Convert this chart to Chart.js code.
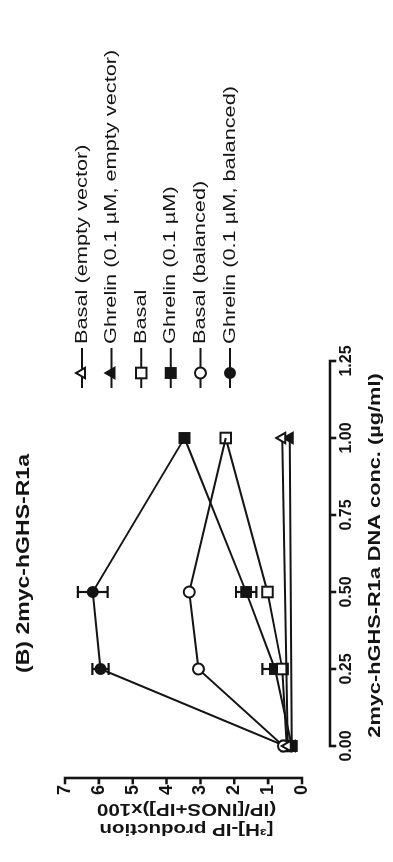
<!DOCTYPE html>
<html>
<head>
<meta charset="utf-8">
<script src="https://cdn.jsdelivr.net/npm/chart.js@4/dist/chart.umd.min.js"></script>
<style>
  html, body { margin: 0; padding: 0; background: #fff; overflow: hidden; }
  #page { position: relative; width: 393px; height: 862px; overflow: hidden; background: #fff; }
  /* the figure is laid out landscape and turned a quarter turn to sit upright on the page */
  #wrap { position: absolute; left: 0; top: 862px; width: 862px; height: 393px;
          transform-origin: 0 0; transform: rotate(-90deg); }
  canvas { display: block; }
</style>
</head>
<body>
<div id="page"><div id="wrap"><canvas id="c" width="862" height="393"></canvas></div></div>
<script>
// DNA amounts (µg/ml) used for each transfection condition
const concEmptyVector = [0, 1.0];
const concReceptor = [0, 0.25, 0.5, 1.0];
const concBalanced = [0, 0.25, 0.5, 1.0];

// [3H]-IP production, (IP/[INOS+IP]) x100
const basalEmptyVector = [0.42, 0.58];
const ghrelinEmptyVector = [0.30, 0.36];
const basalReceptor = [0.45, 0.58, 1.02, 2.25];
const ghrelinReceptor = [0.30, 0.80, 1.65, 3.47];
// the 1.0 µg/ml balanced transfection is the full-receptor condition itself
const basalBalanced = [0.55, 3.06, 3.33, 2.25];
const ghrelinBalanced = [0.50, 5.95, 6.18, 3.47];

// SEM of the stimulated points
const basalReceptorErr = [0, 0, 0.10, 0];
const ghrelinReceptorErr = [0, 0.37, 0.30, 0];
const ghrelinBalancedErr = [0, 0.24, 0.44, 0];

const seriesLabels = [
  'Basal (empty vector)',
  'Ghrelin (0.1 µM, empty vector)',
  'Basal',
  'Ghrelin (0.1 µM)',
  'Basal (balanced)',
  'Ghrelin (0.1 µM, balanced)'
];

const concTicks = [0, 0.25, 0.5, 0.75, 1.0, 1.25];
const valueTicks = [0, 1, 2, 3, 4, 5, 6, 7];

const panelTitle = '(B) 2myc-hGHS-R1a';
const concTitle = '2myc-hGHS-R1a DNA conc. (µg/ml)';
const valueTitle = ['[³H]-IP production', '(IP/[INOS+IP])x100'];

const INK = '#141414';
const FONT = '"Liberation Sans", Arial, Helvetica, sans-serif';
const TEXT_STRETCH = 1.28;

function points(xs, ys) {
  return xs.map((x, i) => ({ x: x, y: ys[i] }));
}

function series(label, xs, ys, style, radius, filled, errors, hideLast) {
  // a point shared with another series keeps that series' marker on top
  const radii = xs.map((x, i) => (hideLast && i === xs.length - 1) ? 0 : radius);
  return {
    label: label,
    data: points(xs, ys),
    errors: errors || null,
    markerRadius: radius,
    showLine: true,
    borderColor: INK,
    borderWidth: 2,
    pointStyle: style,
    pointRadius: radii,
    pointHoverRadius: radii,
    pointBorderColor: INK,
    pointBorderWidth: 2,
    pointBackgroundColor: filled ? INK : '#fff',
    fill: false,
    tension: 0,
    clip: false
  };
}

const datasets = [
  series(seriesLabels[0], concEmptyVector, basalEmptyVector, 'triangle', 6, false),
  series(seriesLabels[1], concEmptyVector, ghrelinEmptyVector, 'triangle', 6, true),
  series(seriesLabels[4], concBalanced, basalBalanced, 'circle', 5.5, false, null, true),
  series(seriesLabels[5], concBalanced, ghrelinBalanced, 'circle', 5, true, ghrelinBalancedErr, true),
  series(seriesLabels[2], concReceptor, basalReceptor, 'rect', 7.5, false, basalReceptorErr),
  series(seriesLabels[3], concReceptor, ghrelinReceptor, 'rect', 7, true, ghrelinReceptorErr)
];
// order in which the key lists the series
const legendOrder = [0, 1, 4, 5, 2, 3];

function drawText(ctx, text, x, y, font, align, rotate) {
  ctx.save();
  ctx.translate(x, y);
  if (rotate) ctx.rotate(rotate);
  ctx.scale(TEXT_STRETCH, 1);
  ctx.font = font;
  ctx.textAlign = align || 'center';
  ctx.textBaseline = 'middle';
  ctx.fillStyle = INK;
  ctx.fillText(text, 0, 0);
  ctx.restore();
}

function drawMarker(ctx, ds, x, y) {
  const opts = { pointStyle: ds.pointStyle, radius: ds.markerRadius, rotation: 0, borderWidth: ds.pointBorderWidth };
  ctx.save();
  ctx.fillStyle = ds.pointBackgroundColor;
  ctx.strokeStyle = ds.pointBorderColor;
  ctx.lineWidth = ds.pointBorderWidth;
  if (Chart.helpers && Chart.helpers.drawPoint) {
    Chart.helpers.drawPoint(ctx, opts, x, y);
  } else {
    const r = ds.markerRadius;
    ctx.beginPath();
    if (ds.pointStyle === 'circle') ctx.arc(x, y, r, 0, Math.PI * 2);
    else if (ds.pointStyle === 'rect') { const s = r * Math.SQRT1_2; ctx.rect(x - s, y - s, 2 * s, 2 * s); }
    else { ctx.moveTo(x, y - r); ctx.lineTo(x + r * 0.866, y + r / 2); ctx.lineTo(x - r * 0.866, y + r / 2); ctx.closePath(); }
    ctx.fill(); ctx.stroke();
  }
  ctx.restore();
}

// Axes drawn detached from the plotting area, with outward tick marks
const offsetAxes = {
  id: 'offsetAxes',
  beforeDatasetsDraw(chart) {
    const { ctx, chartArea: a, scales: { x, y } } = chart;
    ctx.save();
    ctx.strokeStyle = INK;
    ctx.lineWidth = 2.6;
    ctx.lineCap = 'square';
    const ax = a.bottom + 28;
    ctx.beginPath();
    ctx.moveTo(x.getPixelForValue(x.min), ax);
    ctx.lineTo(x.getPixelForValue(x.max), ax);
    x.ticks.forEach(t => {
      const px = x.getPixelForValue(t.value);
      ctx.moveTo(px, ax);
      ctx.lineTo(px, ax + 5);
    });
    const ay = a.left - 32;
    ctx.moveTo(ay, y.getPixelForValue(y.min));
    ctx.lineTo(ay, y.getPixelForValue(y.max));
    y.ticks.forEach(t => {
      const py = y.getPixelForValue(t.value);
      ctx.moveTo(ay, py);
      ctx.lineTo(ay - 5, py);
    });
    ctx.stroke();
    ctx.restore();
  }
};

// SEM bars with caps
const errorBars = {
  id: 'errorBars',
  beforeDatasetsDraw(chart) {
    const { ctx, scales: { x, y } } = chart;
    ctx.save();
    ctx.strokeStyle = INK;
    ctx.lineWidth = 2.2;
    chart.data.datasets.forEach(ds => {
      if (!ds.errors) return;
      ds.data.forEach((pt, j) => {
        const e = ds.errors[j];
        if (!e) return;
        const px = x.getPixelForValue(pt.x);
        const hi = y.getPixelForValue(pt.y + e);
        const lo = y.getPixelForValue(pt.y - e);
        ctx.beginPath();
        ctx.moveTo(px, hi); ctx.lineTo(px, lo);
        ctx.moveTo(px - 6, hi); ctx.lineTo(px + 6, hi);
        ctx.moveTo(px - 6, lo); ctx.lineTo(px + 6, lo);
        ctx.stroke();
      });
    });
    ctx.restore();
  }
};

// Legend column beside the plot, titles of the panel and axes
const annotations = {
  id: 'annotations',
  afterDraw(chart) {
    const { ctx, chartArea: a } = chart;
    const midX = (a.left + a.right) / 2;
    const midY = (a.top + a.bottom) / 2;

    drawText(ctx, panelTitle, midX - 10, 24, 'bold 18px ' + FONT, 'center');
    drawText(ctx, concTitle, midX - 2, a.bottom + 73, 'bold 17px ' + FONT, 'center');
    drawText(ctx, valueTitle[0], 34, midY + 3, 'bold 16px ' + FONT, 'center', -Math.PI / 2);
    drawText(ctx, valueTitle[1], 54, midY + 3, 'bold 16px ' + FONT, 'center', -Math.PI / 2);

    legendOrder.forEach((di, i) => {
      const ds = chart.data.datasets[di];
      const ly = a.top + 17 + i * 29.6;
      ctx.save();
      ctx.strokeStyle = INK;
      ctx.lineWidth = 2;
      ctx.beginPath();
      ctx.moveTo(a.right - 27, ly);
      ctx.lineTo(a.right + 13, ly);
      ctx.stroke();
      ctx.restore();
      drawMarker(ctx, ds, a.right - 12, ly);
      drawText(ctx, ds.label, a.right + 17, ly, '17px ' + FONT, 'left');
    });
  }
};

new Chart(document.getElementById('c'), {
  type: 'scatter',
  data: { datasets: datasets },
  options: {
    responsive: false,
    animation: false,
    events: [],
    layout: { padding: { top: 65, right: 361, bottom: 0, left: 0 } },
    plugins: {
      legend: { display: false },
      tooltip: { enabled: false },
      title: { display: false }
    },
    scales: {
      x: {
        type: 'linear',
        position: 'bottom',
        min: concTicks[0],
        max: concTicks[concTicks.length - 1],
        afterBuildTicks: s => { s.ticks = concTicks.map(v => ({ value: v })); },
        afterFit: s => { s.height = 91; },
        grid: { display: false, drawTicks: false },
        border: { display: false },
        ticks: {
          autoSkip: false,
          maxRotation: 0,
          minRotation: 0,
          padding: 35,
          color: INK,
          font: { family: FONT, size: 16, weight: 'bold' },
          callback: v => Number(v).toFixed(2)
        },
        title: { display: false }
      },
      y: {
        type: 'linear',
        position: 'left',
        min: valueTicks[0],
        max: valueTicks[valueTicks.length - 1],
        afterBuildTicks: s => { s.ticks = valueTicks.map(v => ({ value: v })); },
        afterFit: s => { s.width = 116; },
        grid: { display: false, drawTicks: false },
        border: { display: false },
        ticks: {
          padding: 39,
          color: INK,
          font: { family: FONT, size: 18, weight: 'bold' },
          callback: v => String(v)
        },
        title: { display: false }
      }
    }
  },
  plugins: [offsetAxes, errorBars, annotations]
});
</script>
</body>
</html>
